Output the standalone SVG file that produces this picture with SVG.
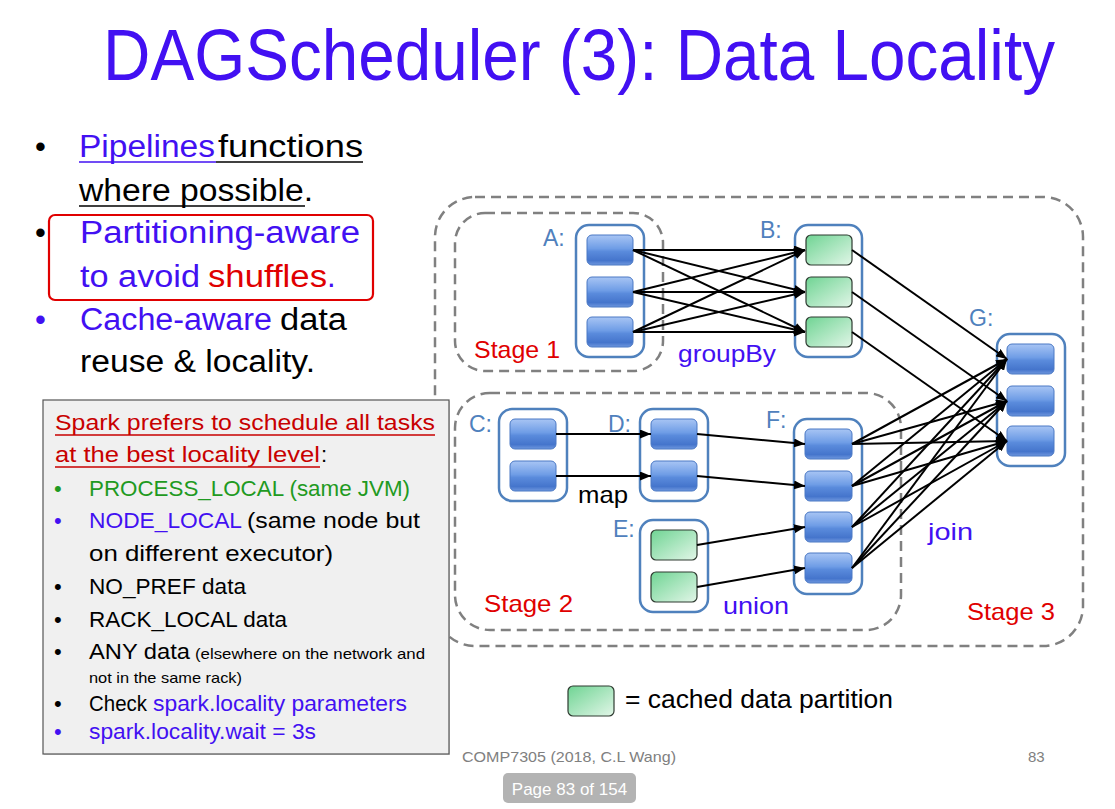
<svg xmlns="http://www.w3.org/2000/svg" width="1115" height="809" viewBox="0 0 1115 809">
  <defs>
    <linearGradient id="gBlue" x1="0" y1="0" x2="0" y2="1">
      <stop offset="0" stop-color="#a8c5f4"/>
      <stop offset="0.45" stop-color="#6f9de6"/>
      <stop offset="0.55" stop-color="#5a8bdc"/>
      <stop offset="0.85" stop-color="#4575cc"/>
      <stop offset="1" stop-color="#6f97de"/>
    </linearGradient>
    <linearGradient id="gGreen" x1="0" y1="0" x2="1" y2="1">
      <stop offset="0" stop-color="#6fd493"/>
      <stop offset="1" stop-color="#e2f6e8"/>
    </linearGradient>
    <marker id="arrow" markerUnits="userSpaceOnUse" markerWidth="11" markerHeight="9" refX="11" refY="4.5" orient="auto">
      <path d="M0,0 L11,4.5 L0,9 z" fill="#000"/>
    </marker>
    <style>
      text { font-family: "Liberation Sans", Arial, sans-serif; }
      .title { font-size: 68px; fill: #4210f2; }
      .big { font-size: 31px; }
      .box { font-size: 22px; }
      .small { font-size: 15px; }
      .blue { fill: #4210f2; }
      .red { fill: #e00000; }
      .dred { fill: #c80000; }
      .green { fill: #1f9a22; }
      .black { fill: #000; }
      .lbl { font-size: 23px; fill: #4f81bd; }
      .stage { font-size: 24px; fill: #e00000; }
      .op { font-size: 24px; }
      .stagebox { fill: none; stroke: #808080; stroke-width: 2.5; stroke-dasharray: 10 6; }
      .rdd { fill: #fff; stroke: #4f81bd; stroke-width: 2.5; }
      .pb { fill: url(#gBlue); stroke: #4a78c4; stroke-width: 1; }
      .pg { fill: url(#gGreen); stroke: #2e3a30; stroke-width: 1.2; }
      .edge { stroke: #000; stroke-width: 2; fill: none; marker-end: url(#arrow); }
      .ul { stroke-width: 1.6; }
    </style>
  </defs>

  <rect width="1115" height="809" fill="#fff"/>

  <!-- title (stretched slightly in height to keep a condensed look) -->
  <text class="title" transform="translate(103,80) scale(1,1.07)" x="0" y="0" textLength="952" lengthAdjust="spacingAndGlyphs">DAGScheduler (3): Data Locality</text>

  <!-- bullet list -->
  <g id="bullets">
    <text class="big black" x="35" y="157">•</text>
    <text class="big blue" x="79" y="157" textLength="136" lengthAdjust="spacingAndGlyphs">Pipelines</text>
    <text class="big black" x="218" y="157" textLength="145" lengthAdjust="spacingAndGlyphs">functions</text>
    <line class="ul" x1="79" y1="162" x2="216" y2="162" stroke="#4210f2"/>
    <line class="ul" x1="216" y1="162" x2="363" y2="162" stroke="#000"/>
    <text class="big black" x="79" y="201" textLength="234" lengthAdjust="spacingAndGlyphs">where possible.</text>
    <line class="ul" x1="79" y1="206" x2="305" y2="206" stroke="#000"/>

    <text class="big black" x="35" y="243">•</text>
    <text class="big blue" x="80" y="243" textLength="280" lengthAdjust="spacingAndGlyphs">Partitioning-aware</text>
    <text class="big blue" x="80" y="287" textLength="120" lengthAdjust="spacingAndGlyphs">to avoid</text>
    <text class="big red" x="208" y="287" textLength="119" lengthAdjust="spacingAndGlyphs">shuffles</text>
    <text class="big blue" x="327" y="287">.</text>
    <rect x="49" y="215" width="324" height="85" rx="6" fill="none" stroke="#e00000" stroke-width="2.2"/>

    <text class="big blue" x="35" y="330">•</text>
    <text class="big blue" x="80" y="330" textLength="192" lengthAdjust="spacingAndGlyphs">Cache-aware</text>
    <text class="big black" x="280" y="330" textLength="67" lengthAdjust="spacingAndGlyphs">data</text>
    <text class="big black" x="80" y="372" textLength="235" lengthAdjust="spacingAndGlyphs">reuse &amp; locality.</text>
  </g>

  <!-- stage outlines -->
  <g id="stages">
    <rect id="stage3" class="stagebox" x="435" y="197" width="648" height="449" rx="40"/>
    <rect id="stage1" class="stagebox" x="455" y="213" width="208" height="158" rx="30"/>
    <rect id="stage2" class="stagebox" x="455" y="393" width="446" height="237" rx="35"/>
    <text class="stage" x="474" y="358" textLength="86" lengthAdjust="spacingAndGlyphs">Stage 1</text>
    <text class="stage" x="484" y="612" textLength="89" lengthAdjust="spacingAndGlyphs">Stage 2</text>
    <text class="stage" x="967" y="620" textLength="88" lengthAdjust="spacingAndGlyphs">Stage 3</text>
  </g>

  <!-- RDD nodes -->
  <g id="nodeA">
    <text class="lbl" x="543" y="246">A:</text>
    <rect class="rdd" x="576" y="225" width="68" height="132" rx="13"/>
    <rect class="pb" x="587" y="235" width="46" height="30" rx="5"/>
    <rect class="pb" x="587" y="277" width="46" height="30" rx="5"/>
    <rect class="pb" x="587" y="317" width="46" height="30" rx="5"/>
  </g>
  <g id="nodeB">
    <text class="lbl" x="760" y="238">B:</text>
    <rect class="rdd" x="795" y="225" width="67" height="132" rx="13"/>
    <rect class="pg" x="806" y="235" width="46" height="30" rx="5"/>
    <rect class="pg" x="806" y="277" width="46" height="30" rx="5"/>
    <rect class="pg" x="806" y="317" width="46" height="30" rx="5"/>
  </g>
  <g id="nodeG">
    <text class="lbl" x="969" y="326">G:</text>
    <rect class="rdd" x="997" y="334" width="68" height="132" rx="13"/>
    <rect class="pb" x="1007" y="344" width="47" height="30" rx="5"/>
    <rect class="pb" x="1007" y="386" width="47" height="30" rx="5"/>
    <rect class="pb" x="1007" y="426" width="47" height="30" rx="5"/>
  </g>
  <g id="nodeC">
    <text class="lbl" x="469" y="432">C:</text>
    <rect class="rdd" x="499" y="409" width="68" height="92" rx="13"/>
    <rect class="pb" x="510" y="419" width="46" height="30" rx="5"/>
    <rect class="pb" x="510" y="461" width="46" height="30" rx="5"/>
  </g>
  <g id="nodeD">
    <text class="lbl" x="608" y="432">D:</text>
    <rect class="rdd" x="640" y="409" width="68" height="92" rx="13"/>
    <rect class="pb" x="651" y="419" width="46" height="30" rx="5"/>
    <rect class="pb" x="651" y="461" width="46" height="30" rx="5"/>
  </g>
  <g id="nodeE">
    <text class="lbl" x="613" y="537">E:</text>
    <rect class="rdd" x="640" y="520" width="68" height="92" rx="13"/>
    <rect class="pg" x="651" y="530" width="46" height="30" rx="5"/>
    <rect class="pg" x="651" y="572" width="46" height="30" rx="5"/>
  </g>
  <g id="nodeF">
    <text class="lbl" x="766" y="428">F:</text>
    <rect class="rdd" x="794" y="419" width="68" height="175" rx="13"/>
    <rect class="pb" x="805" y="429" width="47" height="30" rx="5"/>
    <rect class="pb" x="805" y="471" width="47" height="30" rx="5"/>
    <rect class="pb" x="805" y="512" width="47" height="30" rx="5"/>
    <rect class="pb" x="805" y="553" width="47" height="30" rx="5"/>
  </g>

  <!-- transformation labels -->
  <g id="ops">
    <text class="op blue" x="678" y="362" textLength="98" lengthAdjust="spacingAndGlyphs">groupBy</text>
    <text class="op black" x="578" y="503" textLength="50" lengthAdjust="spacingAndGlyphs">map</text>
    <text class="op blue" x="723" y="614" textLength="66" lengthAdjust="spacingAndGlyphs">union</text>
    <text class="op blue" x="928" y="540" textLength="45" lengthAdjust="spacingAndGlyphs">join</text>
  </g>

  <!-- dependencies between partitions -->
  <g id="connectors">
    <!-- groupBy: A -> B (all to all) -->
    <line class="edge" x1="633" y1="250" x2="805" y2="250"/>
    <line class="edge" x1="633" y1="250" x2="805" y2="292"/>
    <line class="edge" x1="633" y1="250" x2="805" y2="332"/>
    <line class="edge" x1="633" y1="292" x2="805" y2="250"/>
    <line class="edge" x1="633" y1="292" x2="805" y2="292"/>
    <line class="edge" x1="633" y1="292" x2="805" y2="332"/>
    <line class="edge" x1="633" y1="332" x2="805" y2="250"/>
    <line class="edge" x1="633" y1="332" x2="805" y2="292"/>
    <line class="edge" x1="633" y1="332" x2="805" y2="332"/>
    <!-- map: C -> D -->
    <line class="edge" x1="556" y1="434" x2="651" y2="434"/>
    <line class="edge" x1="556" y1="476" x2="651" y2="476"/>
    <!-- union: D, E -> F -->
    <line class="edge" x1="697" y1="434" x2="805" y2="444"/>
    <line class="edge" x1="697" y1="476" x2="805" y2="486"/>
    <line class="edge" x1="697" y1="545" x2="805" y2="527"/>
    <line class="edge" x1="697" y1="587" x2="805" y2="568"/>
    <!-- join: B -> G (co-partitioned) -->
    <line class="edge" x1="852" y1="250" x2="1007" y2="359"/>
    <line class="edge" x1="852" y1="292" x2="1007" y2="401"/>
    <line class="edge" x1="852" y1="332" x2="1007" y2="441"/>
    <!-- join: F -> G (all to all) -->
    <line class="edge" x1="852" y1="444" x2="1007" y2="359"/>
    <line class="edge" x1="852" y1="444" x2="1007" y2="401"/>
    <line class="edge" x1="852" y1="444" x2="1007" y2="441"/>
    <line class="edge" x1="852" y1="486" x2="1007" y2="359"/>
    <line class="edge" x1="852" y1="486" x2="1007" y2="401"/>
    <line class="edge" x1="852" y1="486" x2="1007" y2="441"/>
    <line class="edge" x1="852" y1="527" x2="1007" y2="359"/>
    <line class="edge" x1="852" y1="527" x2="1007" y2="401"/>
    <line class="edge" x1="852" y1="527" x2="1007" y2="441"/>
    <line class="edge" x1="852" y1="568" x2="1007" y2="359"/>
    <line class="edge" x1="852" y1="568" x2="1007" y2="401"/>
    <line class="edge" x1="852" y1="568" x2="1007" y2="441"/>
  </g>

  <!-- locality levels panel -->
  <g id="localityBox">
    <rect x="44" y="401" width="406" height="354" fill="#b0b0b0" opacity="0.5"/>
    <rect x="43" y="400" width="406" height="354" fill="#f0f0f0" stroke="#555" stroke-width="1.2"/>
    <text class="box dred" x="55" y="430" textLength="380" lengthAdjust="spacingAndGlyphs">Spark prefers to schedule all tasks</text>
    <line class="ul" x1="55" y1="435" x2="435" y2="435" stroke="#c80000"/>
    <text class="box dred" x="55" y="462" textLength="265" lengthAdjust="spacingAndGlyphs">at the best locality level</text>
    <line class="ul" x1="55" y1="467" x2="320" y2="467" stroke="#c80000"/>
    <text class="box black" x="321" y="462">:</text>

    <text class="box green" x="54" y="496">•</text>
    <text class="box green" x="89" y="496" textLength="321" lengthAdjust="spacingAndGlyphs">PROCESS_LOCAL (same JVM)</text>

    <text class="box blue" x="54" y="528">•</text>
    <text class="box blue" x="89" y="528" textLength="153" lengthAdjust="spacingAndGlyphs">NODE_LOCAL</text>
    <text class="box black" x="247" y="528" textLength="173" lengthAdjust="spacingAndGlyphs">(same node but</text>
    <text class="box black" x="89" y="561" textLength="244" lengthAdjust="spacingAndGlyphs">on different executor)</text>

    <text class="box black" x="54" y="594">•</text>
    <text class="box black" x="89" y="594" textLength="157" lengthAdjust="spacingAndGlyphs">NO_PREF data</text>

    <text class="box black" x="54" y="627">•</text>
    <text class="box black" x="89" y="627" textLength="198" lengthAdjust="spacingAndGlyphs">RACK_LOCAL data</text>

    <text class="box black" x="54" y="659">•</text>
    <text class="box black" x="89" y="659" textLength="101" lengthAdjust="spacingAndGlyphs">ANY data</text>
    <text class="small black" x="195" y="659" textLength="230" lengthAdjust="spacingAndGlyphs">(elsewhere on the network and</text>
    <text class="small black" x="89" y="683" textLength="153" lengthAdjust="spacingAndGlyphs">not in the same rack)</text>

    <text class="box black" x="54" y="711">•</text>
    <text class="box black" x="89" y="711" textLength="58" lengthAdjust="spacingAndGlyphs">Check</text>
    <text class="box blue" x="153" y="711" textLength="254" lengthAdjust="spacingAndGlyphs">spark.locality parameters</text>

    <text class="box blue" x="54" y="739">•</text>
    <text class="box blue" x="89" y="739" textLength="227" lengthAdjust="spacingAndGlyphs">spark.locality.wait = 3s</text>
  </g>

  <!-- legend -->
  <g id="legend">
    <rect class="pg" x="568" y="686" width="46" height="30" rx="5"/>
    <text x="625" y="708" font-size="25" fill="#000" textLength="268" lengthAdjust="spacingAndGlyphs">= cached data partition</text>
  </g>

  <!-- footer -->
  <g id="footer">
    <text x="462" y="762" font-size="15" fill="#808080" textLength="214" lengthAdjust="spacingAndGlyphs">COMP7305 (2018, C.L Wang)</text>
    <text x="1028" y="762" font-size="15" fill="#808080">83</text>
    <rect x="503" y="773" width="133" height="30" rx="5" fill="#b3b3b3"/>
    <text x="569.5" y="795" font-size="17" fill="#fff" text-anchor="middle">Page 83 of 154</text>
  </g>
</svg>
